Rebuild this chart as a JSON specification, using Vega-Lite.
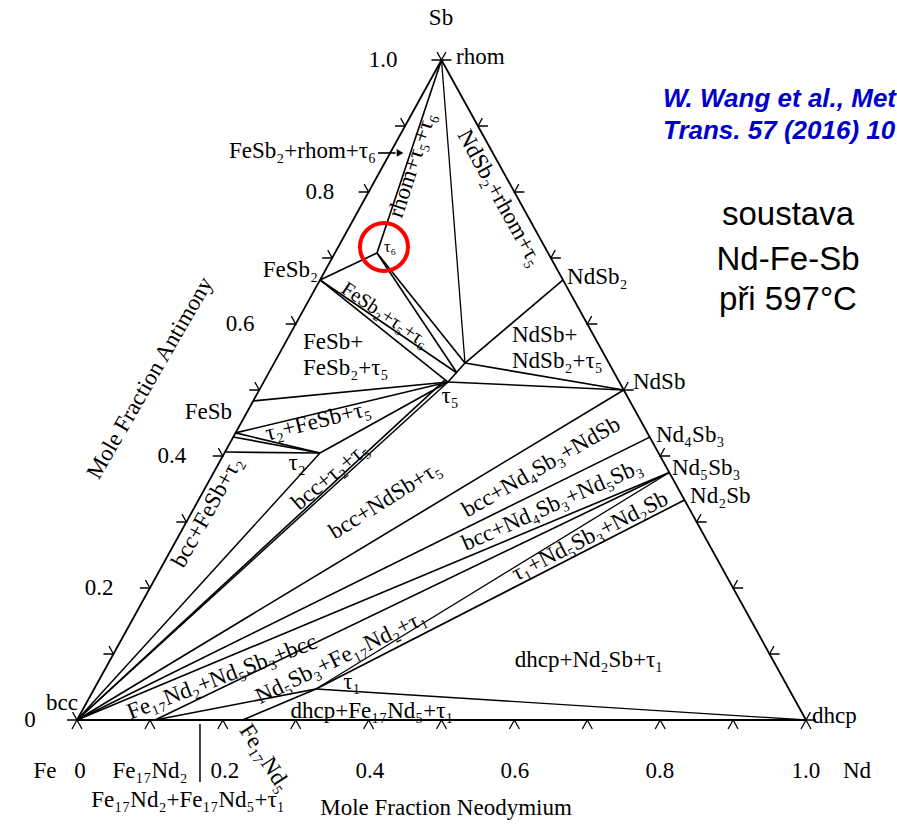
{
  "$schema": "https://vega.github.io/schema/vega-lite/v6.json",
  "width": 897,
  "height": 824,
  "autosize": {"type": "none"},
  "padding": 0,
  "background": "white",
  "config": {"view": {"stroke": null}},
  "encoding": {
    "x": {"field": "x", "type": "quantitative", "scale": {"domain": [-0.105624, 1.124829], "nice": false, "zero": false}, "axis": null},
    "y": {"field": "y", "type": "quantitative", "scale": {"domain": [-0.157576, 1.090909], "nice": false, "zero": false}, "axis": null}
  },
  "datasets": {
    "segments": [
      {"x": 0, "y": 0, "x2": 1, "y2": 0, "kind": "edge"},
      {"x": 0, "y": 0, "x2": 0.5, "y2": 1, "kind": "edge"},
      {"x": 1, "y": 0, "x2": 0.5, "y2": 1, "kind": "edge"},
      {"x": 0.5, "y": 1, "x2": 0.4115, "y2": 0.7076, "kind": "tie"},
      {"x": 0.5, "y": 1, "x2": 0.5322, "y2": 0.5409, "kind": "double"},
      {"x": 0.4115, "y": 0.7076, "x2": 0.3333, "y2": 0.6667, "kind": "tie"},
      {"x": 0.4115, "y": 0.7076, "x2": 0.5213, "y2": 0.5258, "kind": "tie"},
      {"x": 0.4115, "y": 0.7076, "x2": 0.5322, "y2": 0.5409, "kind": "tie"},
      {"x": 0.3333, "y": 0.6667, "x2": 0.5089, "y2": 0.5121, "kind": "tie"},
      {"x": 0.3333, "y": 0.6667, "x2": 0.5213, "y2": 0.5258, "kind": "tie"},
      {"x": 0.5089, "y": 0.5121, "x2": 0.5322, "y2": 0.5409, "kind": "tie"},
      {"x": 0.5322, "y": 0.5409, "x2": 0.6667, "y2": 0.6667, "kind": "tie"},
      {"x": 0.5322, "y": 0.5409, "x2": 0.75, "y2": 0.5, "kind": "tie"},
      {"x": 0.5089, "y": 0.5121, "x2": 0.75, "y2": 0.5, "kind": "thick"},
      {"x": 0.2417, "y": 0.4833, "x2": 0.5089, "y2": 0.5121, "kind": "tie"},
      {"x": 0.2175, "y": 0.435, "x2": 0.5089, "y2": 0.5121, "kind": "tie"},
      {"x": 0.2175, "y": 0.435, "x2": 0.3333, "y2": 0.4045, "kind": "tie"},
      {"x": 0.2144, "y": 0.4288, "x2": 0.3333, "y2": 0.4045, "kind": "tie"},
      {"x": 0.203, "y": 0.406, "x2": 0.3333, "y2": 0.4045, "kind": "tie"},
      {"x": 0.3333, "y": 0.4045, "x2": 0.5089, "y2": 0.5121, "kind": "tie"},
      {"x": 0, "y": 0, "x2": 0.3333, "y2": 0.4045, "kind": "thick"},
      {"x": 0, "y": 0, "x2": 0.5089, "y2": 0.5121, "kind": "thick"},
      {"x": 0, "y": 0, "x2": 0.5045, "y2": 0.515, "kind": "tie"},
      {"x": 0, "y": 0, "x2": 0.75, "y2": 0.5, "kind": "tie"},
      {"x": 0, "y": 0, "x2": 0.7857, "y2": 0.4286, "kind": "tie"},
      {"x": 0, "y": 0, "x2": 0.8125, "y2": 0.375, "kind": "tie"},
      {"x": 0.107, "y": 0, "x2": 0.8125, "y2": 0.375, "kind": "tie"},
      {"x": 0.107, "y": 0, "x2": 0.3278, "y2": 0.047, "kind": "tie"},
      {"x": 0.3278, "y": 0.047, "x2": 0.8125, "y2": 0.375, "kind": "double"},
      {"x": 0.3278, "y": 0.047, "x2": 0.8333, "y2": 0.3333, "kind": "tie"},
      {"x": 0.3278, "y": 0.047, "x2": 1, "y2": 0, "kind": "double"},
      {"x": 0.2273, "y": 0, "x2": 0.3278, "y2": 0.047, "kind": "tie"},
      {"x": 0.1687, "y": -0.006, "x2": 0.1687, "y2": -0.094, "kind": "thick"},
      {"x": 0.4129, "y": 0.8591, "x2": 0.437, "y2": 0.8591, "kind": "tie"}
    ],
    "ticks_base": [
      {"x": 0, "y": 0}, {"x": 0.1, "y": 0}, {"x": 0.2, "y": 0}, {"x": 0.3, "y": 0}, {"x": 0.4, "y": 0}, {"x": 0.5, "y": 0},
      {"x": 0.6, "y": 0}, {"x": 0.7, "y": 0}, {"x": 0.8, "y": 0}, {"x": 0.9, "y": 0}, {"x": 1, "y": 0}
    ],
    "ticks_left": [
      {"x": 0, "y": 0}, {"x": 0.05, "y": 0.1}, {"x": 0.1, "y": 0.2}, {"x": 0.15, "y": 0.3}, {"x": 0.2, "y": 0.4}, {"x": 0.25, "y": 0.5},
      {"x": 0.3, "y": 0.6}, {"x": 0.35, "y": 0.7}, {"x": 0.4, "y": 0.8}, {"x": 0.45, "y": 0.9}, {"x": 0.5, "y": 1}
    ],
    "ticks_right": [
      {"x": 1, "y": 0}, {"x": 0.95, "y": 0.1}, {"x": 0.9, "y": 0.2}, {"x": 0.85, "y": 0.3}, {"x": 0.8, "y": 0.4}, {"x": 0.75, "y": 0.5},
      {"x": 0.7, "y": 0.6}, {"x": 0.65, "y": 0.7}, {"x": 0.6, "y": 0.8}, {"x": 0.55, "y": 0.9}, {"x": 0.5, "y": 1}
    ],
    "arrowhead": [{"x": 0.4431, "y": 0.8591}],
    "highlight": [{"x": 0.4211, "y": 0.7167}],
    "labels_center": [
      {"x": 0.4993, "y": 1.0636, "label": "Sb"},
      {"x": 0.4198, "y": 1.0, "label": "1.0"},
      {"x": 0.3333, "y": 0.8, "label": "0.8"},
      {"x": 0.2236, "y": 0.6, "label": "0.6"},
      {"x": 0.1303, "y": 0.4, "label": "0.4"},
      {"x": 0.0302, "y": 0.2, "label": "0.2"},
      {"x": -0.0645, "y": 0, "label": "0"},
      {"x": 0.5117, "y": 0.4909, "label": "τ₅"},
      {"x": 0.3018, "y": 0.3894, "label": "τ₂"},
      {"x": -0.0206, "y": 0.0258, "label": "bcc"},
      {"x": 0.3772, "y": 0.0576, "label": "τ₁"},
      {"x": 0.4047, "y": 0.0136, "label": "dhcp+Fe₁₇Nd₅+τ₁"},
      {"x": 0.7023, "y": 0.0909, "label": "dhcp+Nd₂Sb+τ₁"},
      {"x": -0.0439, "y": -0.0773, "label": "Fe"},
      {"x": 0.0041, "y": -0.0773, "label": "0"},
      {"x": 0.1001, "y": -0.0773, "label": "Fe₁₇Nd₂"},
      {"x": 0.203, "y": -0.0773, "label": "0.2"},
      {"x": 0.4019, "y": -0.0773, "label": "0.4"},
      {"x": 0.6008, "y": -0.0773, "label": "0.6"},
      {"x": 0.7997, "y": -0.0773, "label": "0.8"},
      {"x": 1.0, "y": -0.0773, "label": "1.0"},
      {"x": 1.07, "y": -0.0773, "label": "Nd"},
      {"x": 0.1523, "y": -0.1212, "label": "Fe₁₇Nd₂+Fe₁₇Nd₅+τ₁"},
      {"x": 0.5062, "y": -0.1333, "label": "Mole Fraction Neodymium"}
    ],
    "labels_left": [
      {"x": 0.5199, "y": 1.0045, "label": "rhom"},
      {"x": 0.6722, "y": 0.6712, "label": "NdSb₂"},
      {"x": 0.31, "y": 0.5727, "label": "FeSb+"},
      {"x": 0.31, "y": 0.5333, "label": "FeSb₂+τ₅"},
      {"x": 0.5967, "y": 0.5833, "label": "NdSb+"},
      {"x": 0.5967, "y": 0.5439, "label": "NdSb₂+τ₅"},
      {"x": 0.7627, "y": 0.5121, "label": "NdSb"},
      {"x": 0.7942, "y": 0.4318, "label": "Nd₄Sb₃"},
      {"x": 0.8162, "y": 0.3818, "label": "Nd₅Sb₃"},
      {"x": 0.8409, "y": 0.3394, "label": "Nd₂Sb"},
      {"x": 1.0082, "y": 0.0061, "label": "dhcp"}
    ],
    "labels_right": [
      {"x": 0.4102, "y": 0.8621, "label": "FeSb₂+rhom+τ₆"},
      {"x": 0.3306, "y": 0.6818, "label": "FeSb₂"},
      {"x": 0.2126, "y": 0.4667, "label": "FeSb"}
    ],
    "labels_small": [
      {"x": 0.4294, "y": 0.7167, "label": "τ₆"}
    ],
    "labels_rotated": [
      {"x": 0.4595, "y": 0.8409, "label": "rhom+τ₅+τ₆"},
      {"x": 0.5802, "y": 0.7909, "label": "NdSb₂+rhom+τ₅"},
      {"x": 0.4225, "y": 0.6136, "label": "FeSb₂+τ₅+τ₆"},
      {"x": 0.3306, "y": 0.453, "label": "τ₂+FeSb+τ₅"},
      {"x": 0.3471, "y": 0.3697, "label": "bcc+τ₂+τ₅"},
      {"x": 0.4225, "y": 0.3333, "label": "bcc+NdSb+τ₅"},
      {"x": 0.1783, "y": 0.3152, "label": "bcc+FeSb+τ₂"},
      {"x": 0.1001, "y": 0.5182, "label": "Mole Fraction Antimony"},
      {"x": 0.6365, "y": 0.3833, "label": "bcc+Nd₄Sb₃+NdSb"},
      {"x": 0.6516, "y": 0.3258, "label": "bcc+Nd₄Sb₃+Nd₅Sb₃"},
      {"x": 0.7037, "y": 0.2788, "label": "τ₁+Nd₅Sb₃+Nd₂Sb"},
      {"x": 0.1989, "y": 0.0652, "label": "Fe₁₇Nd₂+Nd₅Sb₃+bcc"},
      {"x": 0.3621, "y": 0.0955, "label": "Nd₅Sb₃+Fe₁₇Nd₂+τ₁"},
      {"x": 0.2579, "y": -0.0576, "label": "Fe₁₇Nd₅"}
    ],
    "citation": [
      {"x": 0.8038, "y": 0.9288, "label": "W. Wang et al., Met"},
      {"x": 0.8038, "y": 0.8803, "label": "Trans. 57 (2016) 10"}
    ],
    "title_lines": [
      {"x": 0.9753, "y": 0.75, "label": "soustava"},
      {"x": 0.9753, "y": 0.6818, "label": "Nd-Fe-Sb"},
      {"x": 0.9753, "y": 0.6212, "label": "při 597°C"}
    ]
  },
  "layer": [
    {
      "data": {"name": "segments"},
      "mark": {"type": "rule", "color": "black"},
      "encoding": {
        "x2": {"field": "x2"},
        "y2": {"field": "y2"},
        "strokeWidth": {"field": "kind", "type": "nominal", "scale": {"domain": ["edge", "tie", "thick", "double"], "range": [1.8, 1.3, 2.7, 2.1]}, "legend": null}
      }
    },
    {
      "data": {"name": "ticks_base"},
      "mark": {"type": "point", "shape": "M -0.5 0.9 L 0 0 L 0.5 0.9", "size": 400, "filled": false, "stroke": "black", "strokeWidth": 1.3, "opacity": 1}
    },
    {
      "data": {"name": "ticks_left"},
      "mark": {"type": "point", "shape": "M -1 0 L 0 0 L -0.44 -0.79", "size": 400, "filled": false, "stroke": "black", "strokeWidth": 1.3, "opacity": 1}
    },
    {
      "data": {"name": "ticks_right"},
      "mark": {"type": "point", "shape": "M 1 0 L 0 0 L 0.44 -0.79", "size": 400, "filled": false, "stroke": "black", "strokeWidth": 1.3, "opacity": 1}
    },
    {
      "data": {"name": "arrowhead"},
      "mark": {"type": "point", "shape": "triangle-right", "size": 60, "filled": true, "color": "black", "opacity": 1}
    },
    {
      "data": {"name": "highlight"},
      "mark": {"type": "point", "shape": "circle", "size": 2304, "filled": false, "stroke": "#ff0000", "strokeWidth": 4, "opacity": 1}
    },
    {
      "data": {"name": "labels_center"},
      "mark": {"type": "text", "font": "Liberation Serif, DejaVu Serif", "fontSize": 23, "align": "center", "baseline": "middle", "color": "black"},
      "encoding": {"text": {"field": "label"}}
    },
    {
      "data": {"name": "labels_left"},
      "mark": {"type": "text", "font": "Liberation Serif, DejaVu Serif", "fontSize": 23, "align": "left", "baseline": "middle", "color": "black"},
      "encoding": {"text": {"field": "label"}}
    },
    {
      "data": {"name": "labels_right"},
      "mark": {"type": "text", "font": "Liberation Serif, DejaVu Serif", "fontSize": 23, "align": "right", "baseline": "middle", "color": "black"},
      "encoding": {"text": {"field": "label"}}
    },
    {
      "data": {"name": "labels_small"},
      "mark": {"type": "text", "font": "Liberation Serif, DejaVu Serif", "fontSize": 16, "align": "center", "baseline": "middle", "color": "black"},
      "encoding": {"text": {"field": "label"}}
    },
    {"data": {"name": "labels_rotated"}, "transform": [{"filter": "datum.label == 'rhom+τ₅+τ₆'"}], "mark": {"type": "text", "angle": -72, "font": "Liberation Serif, DejaVu Serif", "fontSize": 23, "align": "center", "baseline": "middle"}, "encoding": {"text": {"field": "label"}}},
    {"data": {"name": "labels_rotated"}, "transform": [{"filter": "datum.label == 'NdSb₂+rhom+τ₅'"}], "mark": {"type": "text", "angle": 61, "font": "Liberation Serif, DejaVu Serif", "fontSize": 23, "align": "center", "baseline": "middle"}, "encoding": {"text": {"field": "label"}}},
    {"data": {"name": "labels_rotated"}, "transform": [{"filter": "datum.label == 'FeSb₂+τ₅+τ₆'"}], "mark": {"type": "text", "angle": 34, "font": "Liberation Serif, DejaVu Serif", "fontSize": 20, "align": "center", "baseline": "middle"}, "encoding": {"text": {"field": "label"}}},
    {"data": {"name": "labels_rotated"}, "transform": [{"filter": "datum.label == 'τ₂+FeSb+τ₅'"}], "mark": {"type": "text", "angle": -14, "font": "Liberation Serif, DejaVu Serif", "fontSize": 23, "align": "center", "baseline": "middle"}, "encoding": {"text": {"field": "label"}}},
    {"data": {"name": "labels_rotated"}, "transform": [{"filter": "datum.label == 'bcc+τ₂+τ₅'"}], "mark": {"type": "text", "angle": -40, "font": "Liberation Serif, DejaVu Serif", "fontSize": 23, "align": "center", "baseline": "middle"}, "encoding": {"text": {"field": "label"}}},
    {"data": {"name": "labels_rotated"}, "transform": [{"filter": "datum.label == 'bcc+NdSb+τ₅'"}], "mark": {"type": "text", "angle": -32, "font": "Liberation Serif, DejaVu Serif", "fontSize": 23, "align": "center", "baseline": "middle"}, "encoding": {"text": {"field": "label"}}},
    {"data": {"name": "labels_rotated"}, "transform": [{"filter": "datum.label == 'bcc+FeSb+τ₂'"}], "mark": {"type": "text", "angle": -61, "font": "Liberation Serif, DejaVu Serif", "fontSize": 23, "align": "center", "baseline": "middle"}, "encoding": {"text": {"field": "label"}}},
    {"data": {"name": "labels_rotated"}, "transform": [{"filter": "datum.label == 'Mole Fraction Antimony'"}], "mark": {"type": "text", "angle": -60, "font": "Liberation Serif, DejaVu Serif", "fontSize": 23, "align": "center", "baseline": "middle"}, "encoding": {"text": {"field": "label"}}},
    {"data": {"name": "labels_rotated"}, "transform": [{"filter": "datum.label == 'bcc+Nd₄Sb₃+NdSb'"}], "mark": {"type": "text", "angle": -30, "font": "Liberation Serif, DejaVu Serif", "fontSize": 23, "align": "center", "baseline": "middle"}, "encoding": {"text": {"field": "label"}}},
    {"data": {"name": "labels_rotated"}, "transform": [{"filter": "datum.label == 'bcc+Nd₄Sb₃+Nd₅Sb₃'"}], "mark": {"type": "text", "angle": -24, "font": "Liberation Serif, DejaVu Serif", "fontSize": 23, "align": "center", "baseline": "middle"}, "encoding": {"text": {"field": "label"}}},
    {"data": {"name": "labels_rotated"}, "transform": [{"filter": "datum.label == 'τ₁+Nd₅Sb₃+Nd₂Sb'"}], "mark": {"type": "text", "angle": -27, "font": "Liberation Serif, DejaVu Serif", "fontSize": 23, "align": "center", "baseline": "middle"}, "encoding": {"text": {"field": "label"}}},
    {"data": {"name": "labels_rotated"}, "transform": [{"filter": "datum.label == 'Fe₁₇Nd₂+Nd₅Sb₃+bcc'"}], "mark": {"type": "text", "angle": -21, "font": "Liberation Serif, DejaVu Serif", "fontSize": 23, "align": "center", "baseline": "middle"}, "encoding": {"text": {"field": "label"}}},
    {"data": {"name": "labels_rotated"}, "transform": [{"filter": "datum.label == 'Nd₅Sb₃+Fe₁₇Nd₂+τ₁'"}], "mark": {"type": "text", "angle": -26, "font": "Liberation Serif, DejaVu Serif", "fontSize": 23, "align": "center", "baseline": "middle"}, "encoding": {"text": {"field": "label"}}},
    {"data": {"name": "labels_rotated"}, "transform": [{"filter": "datum.label == 'Fe₁₇Nd₅'"}], "mark": {"type": "text", "angle": 57, "font": "Liberation Serif, DejaVu Serif", "fontSize": 23, "align": "center", "baseline": "middle"}, "encoding": {"text": {"field": "label"}}},
    {
      "data": {"name": "citation"},
      "mark": {"type": "text", "font": "Liberation Sans, Arial", "fontSize": 26, "fontWeight": "bold", "fontStyle": "italic", "align": "left", "baseline": "alphabetic", "color": "#0000cc"},
      "encoding": {"text": {"field": "label"}}
    },
    {
      "data": {"name": "title_lines"},
      "mark": {"type": "text", "font": "Liberation Sans, Arial", "fontSize": 33, "align": "center", "baseline": "alphabetic", "color": "black"},
      "encoding": {"text": {"field": "label"}}
    }
  ]
}
